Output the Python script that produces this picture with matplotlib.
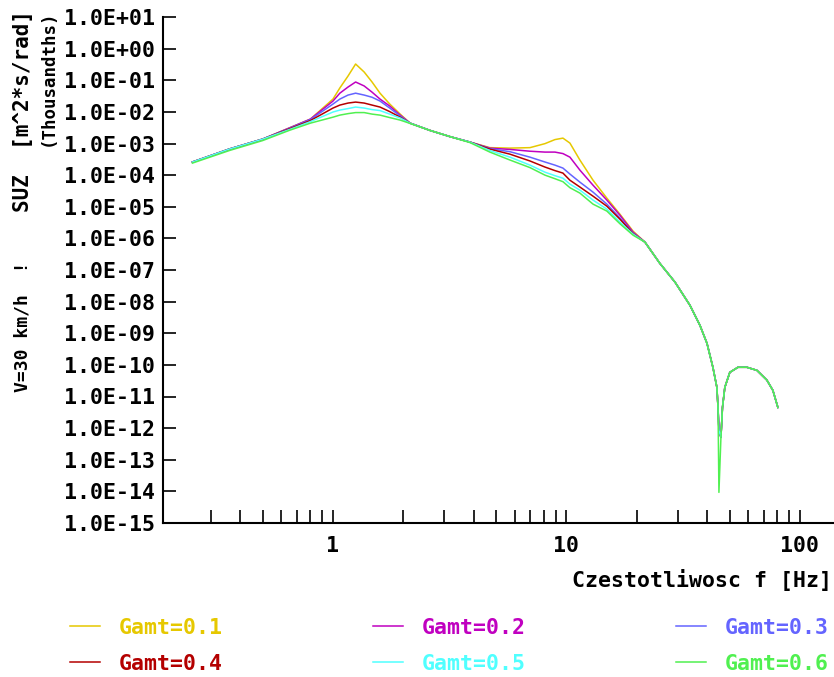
import matplotlib
matplotlib.use('Agg')
import matplotlib.pyplot as plt
from matplotlib.ticker import FixedLocator, FuncFormatter, NullFormatter
import numpy as np

# frequency grid [Hz]
freq = [0.25, 0.36, 0.50, 0.65, 0.80, 1.0, 1.07, 1.16, 1.25, 1.36,
        1.47, 1.59, 1.75, 1.94, 2.14, 2.6, 3.17, 3.86, 4.7, 5.73,
        6.98, 8.09, 8.93, 9.66, 10.35, 11.42, 13.0, 14.9, 16.95, 19.3,
        21.7, 25.1, 29.2, 33.8, 37.3, 40.0, 42.4, 44.1, 44.6, 45.0,
        45.9, 46.6, 47.7, 50.1, 54.3, 59.3, 65.5, 72.2, 76.6, 80.5]

# high frequency part, same for every Gamt
tail = [7.6e-7, 1.64e-7, 4.1e-8, 7.7e-9, 1.79e-9, 4.8e-10, 8.4e-11, 1.95e-11, 4.5e-12, 8.5e-13,
        5.1e-13, 4.5e-12, 1.95e-11, 5.8e-11, 8.4e-11, 8.4e-11, 6.7e-11, 3.3e-11, 1.57e-11, 4.5e-12]
tail_g = [7.6e-7, 1.64e-7, 4.1e-8, 7.7e-9, 1.79e-9, 4.8e-10, 8.4e-11, 1.95e-11, 4.5e-12, 9.3e-15,
          5.1e-13, 4.5e-12, 1.95e-11, 5.8e-11, 8.4e-11, 8.4e-11, 6.7e-11, 3.3e-11, 1.57e-11, 4.5e-12]

suz_01 = [2.6e-4, 6.7e-4, 1.38e-3, 3.1e-3, 5.9e-3, 2.54e-2, 5.7e-2, 0.136, 0.326, 0.182,
          8.8e-2, 3.9e-2, 1.77e-2, 8.5e-3, 4.4e-3, 2.6e-3, 1.65e-3, 1.11e-3, 7.4e-4, 7.15e-4,
          7.4e-4, 9.9e-4, 1.33e-3, 1.48e-3, 1.03e-3, 3.0e-4, 6.9e-5, 1.87e-5, 5.8e-6, 1.69e-6] + tail
suz_02 = [2.6e-4, 6.7e-4, 1.38e-3, 3.1e-3, 5.9e-3, 2.2e-2, 3.9e-2, 6.1e-2, 8.8e-2, 6.6e-2,
          4.2e-2, 2.54e-2, 1.53e-2, 7.9e-3, 4.4e-3, 2.6e-3, 1.65e-3, 1.11e-3, 7.15e-4, 6.5e-4,
          5.7e-4, 5.35e-4, 5.35e-4, 4.8e-4, 3.7e-4, 1.44e-4, 4.8e-5, 1.62e-5, 5.4e-6, 1.57e-6] + tail
suz_03 = [2.6e-4, 6.7e-4, 1.38e-3, 3.0e-3, 5.7e-3, 1.77e-2, 2.54e-2, 3.4e-2, 3.9e-2, 3.4e-2,
          2.9e-2, 2.2e-2, 1.32e-2, 7.4e-3, 4.4e-3, 2.6e-3, 1.65e-3, 1.11e-3, 6.9e-4, 5.5e-4,
          3.7e-4, 2.6e-4, 2.07e-4, 1.67e-4, 1.08e-4, 6.0e-5, 2.9e-5, 1.21e-5, 4.4e-6, 1.46e-6] + tail
suz_04 = [2.6e-4, 6.7e-4, 1.38e-3, 2.9e-3, 5.3e-3, 1.32e-2, 1.64e-2, 1.9e-2, 2.04e-2, 1.9e-2,
          1.64e-2, 1.42e-2, 1.02e-2, 6.8e-3, 4.4e-3, 2.6e-3, 1.65e-3, 1.11e-3, 6.65e-4, 4.6e-4,
          2.8e-4, 1.8e-4, 1.39e-4, 1.16e-4, 6.9e-5, 4.2e-5, 2.16e-5, 1.04e-5, 4.05e-6, 1.41e-6] + tail
suz_05 = [2.6e-4, 6.7e-4, 1.38e-3, 2.75e-3, 4.9e-3, 9.9e-3, 1.14e-2, 1.27e-2, 1.42e-2, 1.32e-2,
          1.18e-2, 1.1e-2, 8.5e-3, 6.4e-3, 4.4e-3, 2.6e-3, 1.65e-3, 1.11e-3, 6.0e-4, 3.7e-4,
          2.07e-4, 1.24e-4, 9.6e-5, 8.0e-5, 5.2e-5, 3.35e-5, 1.62e-5, 8.4e-6, 3.26e-6, 1.36e-6] + tail
suz_06 = [2.4e-4, 6.0e-4, 1.24e-3, 2.6e-3, 4.4e-3, 6.8e-3, 7.9e-3, 8.8e-3, 9.5e-3, 9.5e-3,
          8.5e-3, 7.9e-3, 6.6e-3, 5.5e-3, 4.3e-3, 2.6e-3, 1.65e-3, 1.07e-3, 5.35e-4, 3.0e-4,
          1.73e-4, 1.0e-4, 7.7e-5, 6.2e-5, 4.0e-5, 2.7e-5, 1.21e-5, 7.3e-6, 2.9e-6, 1.26e-6] + tail_g

labels = ['Gamt=0.1', 'Gamt=0.2', 'Gamt=0.3', 'Gamt=0.4', 'Gamt=0.5', 'Gamt=0.6']
colors = ['#E6C800', '#C000C0', '#6464FF', '#B40000', '#50FFFF', '#50F050']
series = [suz_01, suz_02, suz_03, suz_04, suz_05, suz_06]

plt.rcParams['font.family'] = 'DejaVu Sans Mono'
plt.rcParams['font.weight'] = 'bold'
FS = 15.5

fig = plt.figure(figsize=(8.34, 6.77), dpi=100)
W, H = 834, 677
ax = fig.add_axes([163 / W, 1 - 523 / H, 1 - 163 / W, (523 - 17) / H])

lines = []
for vals, lab, col in zip(series, labels, colors):
    ln, = ax.plot(freq, vals, color=col, lw=1.1, label=lab)
    lines.append(ln)

ax.set_xscale('log')
ax.set_yscale('log')
ax.set_xlim(0.187, 140)
ax.set_ylim(1e-15, 1e1)

for s in ['top', 'right']:
    ax.spines[s].set_visible(False)
for s in ['left', 'bottom']:
    ax.spines[s].set_linewidth(1.5)

ax.yaxis.set_major_locator(FixedLocator([10.0 ** k for k in range(-15, 2)]))
ax.yaxis.set_minor_locator(FixedLocator([]))
ax.yaxis.set_major_formatter(FuncFormatter(lambda v, p: '1.0E%+03d' % int(round(np.log10(v)))))

ax.xaxis.set_major_locator(FixedLocator([1, 10, 100]))
ax.xaxis.set_major_formatter(FuncFormatter(lambda v, p: '%d' % v))
minor_x = [m * 0.1 for m in range(3, 10)] + list(range(2, 10)) + list(range(20, 100, 10))
ax.xaxis.set_minor_locator(FixedLocator(minor_x))
ax.xaxis.set_minor_formatter(NullFormatter())

ax.tick_params(axis='both', which='both', direction='in', length=9.5, width=1.2, labelsize=FS)
ax.tick_params(axis='y', pad=5.5)
ax.tick_params(axis='x', pad=9)

fig.text(832 / W, 1 - 580 / H, 'Czestotliwosc f [Hz]', ha='right', va='center', fontsize=FS)

fig.text(23 / W, 1 - 10 / H, 'SUZ  [m^2*s/rad]', rotation=90, ha='center', va='top', fontsize=15)
fig.text(48 / W, 1 - 10 / H, '(Thousandths)', rotation=90, ha='center', va='top', fontsize=12.5)
fig.text(23 / W, 1 - 392 / H, 'V=30 km/h  !', rotation=90, ha='center', va='bottom', fontsize=13)

# legend filled row by row
order = [0, 3, 1, 4, 2, 5]
fig.legend([lines[i] for i in order], [labels[i] for i in order],
           loc='upper left', bbox_to_anchor=(70 / W, 1 - 618 / H), ncol=3, frameon=False,
           fontsize=FS, labelcolor='linecolor', handlelength=1.4, handletextpad=0.85,
           columnspacing=7.0, labelspacing=0.73, borderpad=0, borderaxespad=0)

fig.savefig('out.png', dpi=100)
